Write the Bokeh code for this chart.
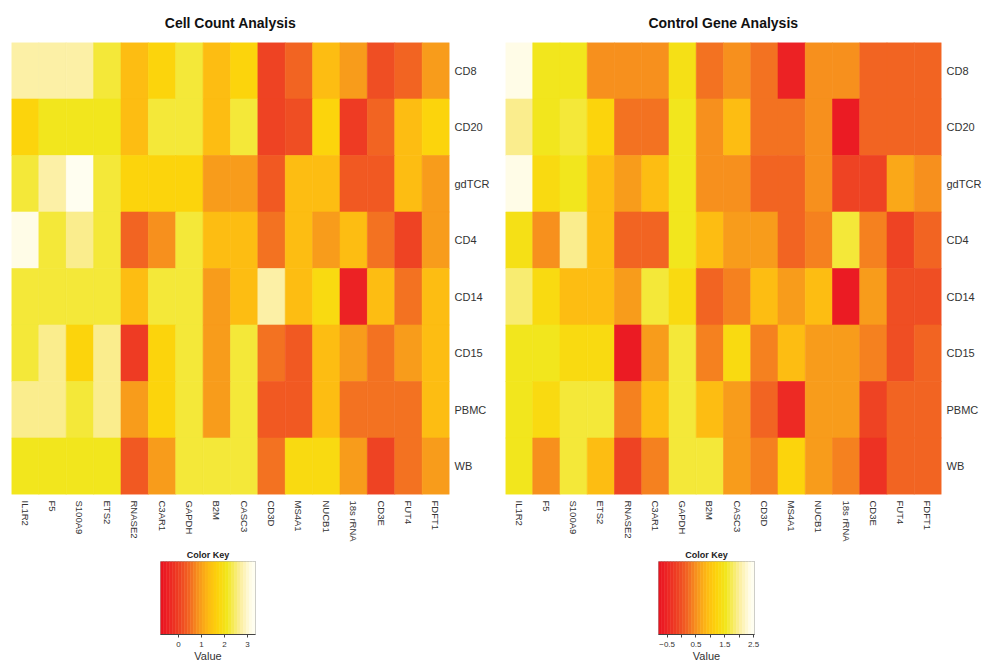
import numpy as np
from bokeh.plotting import figure
from bokeh.models import LinearColorMapper, FactorRange, FixedTicker, ColumnDataSource, Range1d
from bokeh.layouts import row, column
from bokeh.embed import file_html
from bokeh.resources import INLINE
from bokeh.transform import transform

genes = ["IL1R2", "F5", "S100A9", "ETS2", "RNASE2", "C3AR1", "GAPDH", "B2M",
         "CASC3", "CD3D", "MS4A1", "NUCB1", "18s rRNA", "CD3E", "FUT4", "FDFT1"]
samples = ["CD8", "CD20", "gdTCR", "CD4", "CD14", "CD15", "PBMC", "WB"]

# Cell Count Analysis values (rows = samples, columns = genes)
cell_cd8   = [2.8, 2.8, 2.8, 2.2, 1.3, 1.7, 2.2, 1.3, 1.8, 0.0, 0.5, 1.3, 0.9, 0.2, 0.5, 0.9]
cell_cd20  = [1.8, 2.1, 2.1, 2.1, 1.3, 2.3, 2.3, 1.3, 2.3, 0.0, 0.2, 1.8, -0.1, 0.5, 1.4, 1.8]
cell_gdtcr = [2.2, 2.8, 3.3, 2.2, 1.8, 1.8, 1.8, 0.9, 0.9, 0.3, 1.4, 1.4, 0.3, 0.3, 1.4, 0.9]
cell_cd4   = [3.2, 2.2, 2.7, 2.2, 0.5, 0.8, 2.2, 1.4, 1.4, 0.6, 1.4, 0.9, 1.3, 0.6, 0.0, 0.9]
cell_cd14  = [2.2, 2.2, 2.2, 2.2, 1.3, 2.3, 2.2, 0.9, 1.4, 2.8, 1.4, 1.9, -0.5, 1.4, 0.6, 1.3]
cell_cd15  = [2.2, 2.7, 1.8, 2.7, -0.1, 1.8, 2.2, 0.9, 2.2, 0.6, 0.3, 1.4, 0.9, 0.6, 0.9, 1.3]
cell_pbmc  = [2.7, 2.7, 2.2, 2.7, 0.9, 1.8, 2.2, 0.9, 2.2, 0.3, 0.3, 1.4, 0.6, 0.6, 0.6, 1.3]
cell_wb    = [2.1, 2.1, 2.1, 2.1, 0.3, 0.9, 2.2, 2.2, 2.2, 0.6, 1.9, 1.9, 0.9, 0.0, 0.6, 0.9]

# Control Gene Analysis values
ctrl_cd8   = [2.4, 1.55, 1.55, 0.55, 0.55, 0.55, 1.4, 0.3, 0.55, 0.3, -0.5, 0.55, 0.55, 0.15, 0.15, 0.15]
ctrl_cd20  = [2.0, 1.55, 1.6, 1.2, 0.3, 0.3, 1.5, 0.55, 0.9, 0.3, 0.3, 0.55, -0.6, 0.15, 0.15, 0.15]
ctrl_gdtcr = [2.4, 1.3, 1.5, 0.9, 0.6, 0.9, 1.5, 0.55, 0.55, 0.15, 0.15, 0.55, -0.1, -0.1, 0.7, 0.45]
ctrl_cd4   = [1.4, 0.5, 2.0, 0.9, 0.15, 0.15, 1.55, 0.9, 0.6, 0.6, 0.15, 0.35, 1.6, 0.35, -0.1, 0.15]
ctrl_cd14  = [1.9, 1.3, 0.9, 0.9, 0.6, 1.6, 1.3, 0.15, 0.35, 0.9, 0.6, 0.95, -0.6, 0.6, -0.05, -0.05]
ctrl_cd15  = [1.5, 1.5, 1.3, 1.3, -0.65, 0.6, 1.6, 0.35, 1.3, 0.35, 0.95, 0.6, 0.6, 0.35, -0.05, 0.15]
ctrl_pbmc  = [1.5, 1.3, 1.6, 1.6, 0.35, 0.95, 1.6, 0.95, 0.6, 0.15, -0.45, 0.6, 0.6, -0.15, 0.15, 0.15]
ctrl_wb    = [1.5, 0.5, 1.6, 0.95, -0.1, 0.35, 1.6, 1.6, 0.6, 0.35, 1.2, 0.6, 0.4, -0.35, 0.15, 0.15]

cell_rows = [cell_cd8, cell_cd20, cell_gdtcr, cell_cd4, cell_cd14, cell_cd15, cell_pbmc, cell_wb]
ctrl_rows = [ctrl_cd8, ctrl_cd20, ctrl_gdtcr, ctrl_cd4, ctrl_cd14, ctrl_cd15, ctrl_pbmc, ctrl_wb]

# colour key ranges and ticks
cell_low, cell_high = -0.78, 3.35
ctrl_low, ctrl_high = -0.8, 2.53
cell_ticks = [0, 1, 2, 3]
cell_minor = []
ctrl_ticks = [-0.5, 0.5, 1.5, 2.5]
ctrl_minor = [0, 1, 2]

# palette (red -> orange -> yellow -> white)
anchor_t = [0.0, 0.056, 0.2, 0.3, 0.4, 0.5, 0.6, 0.7, 0.84, 0.95, 1.0]
anchor_c = ["#E8141E", "#EC1C24", "#EE4223", "#F26522", "#F7941D", "#FDB913",
            "#FDD20A", "#F2E61A", "#FBEE98", "#FFFCE6", "#FFFFF4"]
N_COL = 32


def hex2rgb(h):
    return [int(h[i:i + 2], 16) for i in (1, 3, 5)]


rgb = np.array([hex2rgb(c) for c in anchor_c], dtype=float)
ts = (np.arange(N_COL) + 0.5) / N_COL
palette = []
for t in ts:
    r, g, b = (np.interp(t, anchor_t, rgb[:, k]) for k in range(3))
    palette.append("#%02x%02x%02x" % (int(round(r)), int(round(g)), int(round(b))))

FONT = "Liberation Sans"
PANEL_W = 492
HEAT_H = 544
KEY_H = 120


def heat(title, rows, lo, hi, left, right):
    mapper = LinearColorMapper(palette=palette, low=lo, high=hi)
    xs, ys, vs = [], [], []
    for s, vals in zip(samples, rows):
        for g, v in zip(genes, vals):
            xs.append(g)
            ys.append(s)
            vs.append(v)
    src = ColumnDataSource(dict(gene=xs, sample=ys, v=vs))
    p = figure(width=PANEL_W, height=HEAT_H, x_range=FactorRange(factors=genes),
               y_range=FactorRange(factors=list(reversed(samples))),
               y_axis_location="right", output_backend="svg", toolbar_location=None,
               min_border_left=left, min_border_right=right, min_border_top=42,
               min_border_bottom=HEAT_H - 494, title=title, frame_align=False)
    p.rect(x="gene", y="sample", width=1, height=1, source=src,
           fill_color=transform("v", mapper), line_color=transform("v", mapper), line_width=0.6)
    p.title.align = "center"
    p.title.text_font = FONT
    p.title.text_font_size = "14px"
    p.title.text_font_style = "bold"
    p.title.text_color = "#111111"
    p.title.standoff = 24
    p.outline_line_color = None
    p.grid.visible = False
    p.axis.axis_line_color = None
    p.axis.major_tick_line_color = None
    p.axis.minor_tick_line_color = None
    p.axis.major_tick_in = 0
    p.axis.major_tick_out = 0
    p.axis.minor_tick_in = 0
    p.axis.minor_tick_out = 0
    p.axis.major_label_text_font = FONT
    p.axis.major_label_text_color = "#333333"
    p.xaxis.major_label_orientation = "vertical"
    p.xaxis.major_label_text_font_size = "9.5px"
    p.yaxis.major_label_text_font_size = "11px"
    p.xaxis.major_label_standoff = 6
    p.yaxis.major_label_standoff = 5
    return p


def key(lo, hi, ticks, minor, left, right):
    k = figure(width=PANEL_W, height=KEY_H, x_range=Range1d(lo, hi), y_range=Range1d(0, 1),
               output_backend="svg", toolbar_location=None, title="Color Key",
               min_border_left=left, min_border_right=right, min_border_top=561 - HEAT_H,
               min_border_bottom=HEAT_H + KEY_H - 634, frame_align=False)
    edges = np.linspace(lo, hi, N_COL + 1)
    k.quad(left=edges[:-1], right=edges[1:], bottom=0, top=1, fill_color=palette,
           line_color=palette, line_width=0.5)
    k.title.align = "center"
    k.title.text_font = FONT
    k.title.text_font_size = "9px"
    k.title.text_font_style = "bold"
    k.title.text_color = "#222222"
    k.title.standoff = 4
    k.outline_line_color = "#aaaaaa"
    k.grid.visible = False
    k.yaxis.visible = False
    ax = k.xaxis[0]
    ax.ticker = FixedTicker(ticks=ticks, minor_ticks=minor)
    ax.axis_line_color = "#444444"
    ax.major_tick_line_color = "#444444"
    ax.minor_tick_line_color = "#444444"
    ax.major_tick_in = 0
    ax.major_tick_out = 3
    ax.minor_tick_in = 0
    ax.minor_tick_out = 3
    ax.major_label_text_font = FONT
    ax.major_label_text_font_size = "8px"
    ax.major_label_text_color = "#333333"
    ax.major_label_standoff = 4
    ax.axis_label = "Value"
    ax.axis_label_text_font = FONT
    ax.axis_label_text_font_size = "11px"
    ax.axis_label_text_font_style = "normal"
    ax.axis_label_text_color = "#333333"
    ax.axis_label_standoff = 0
    return k


h1 = heat("Cell Count Analysis", cell_rows, cell_low, cell_high, 11, 43)
k1 = key(cell_low, cell_high, cell_ticks, cell_minor, 160, 237)
h2 = heat("Control Gene Analysis", ctrl_rows, ctrl_low, ctrl_high, 13, 40)
k2 = key(ctrl_low, ctrl_high, ctrl_ticks, ctrl_minor, 166, 230)

layout = row(column(h1, k1), column(h2, k2))
open("out.html", "w").write(file_html(layout, INLINE))
